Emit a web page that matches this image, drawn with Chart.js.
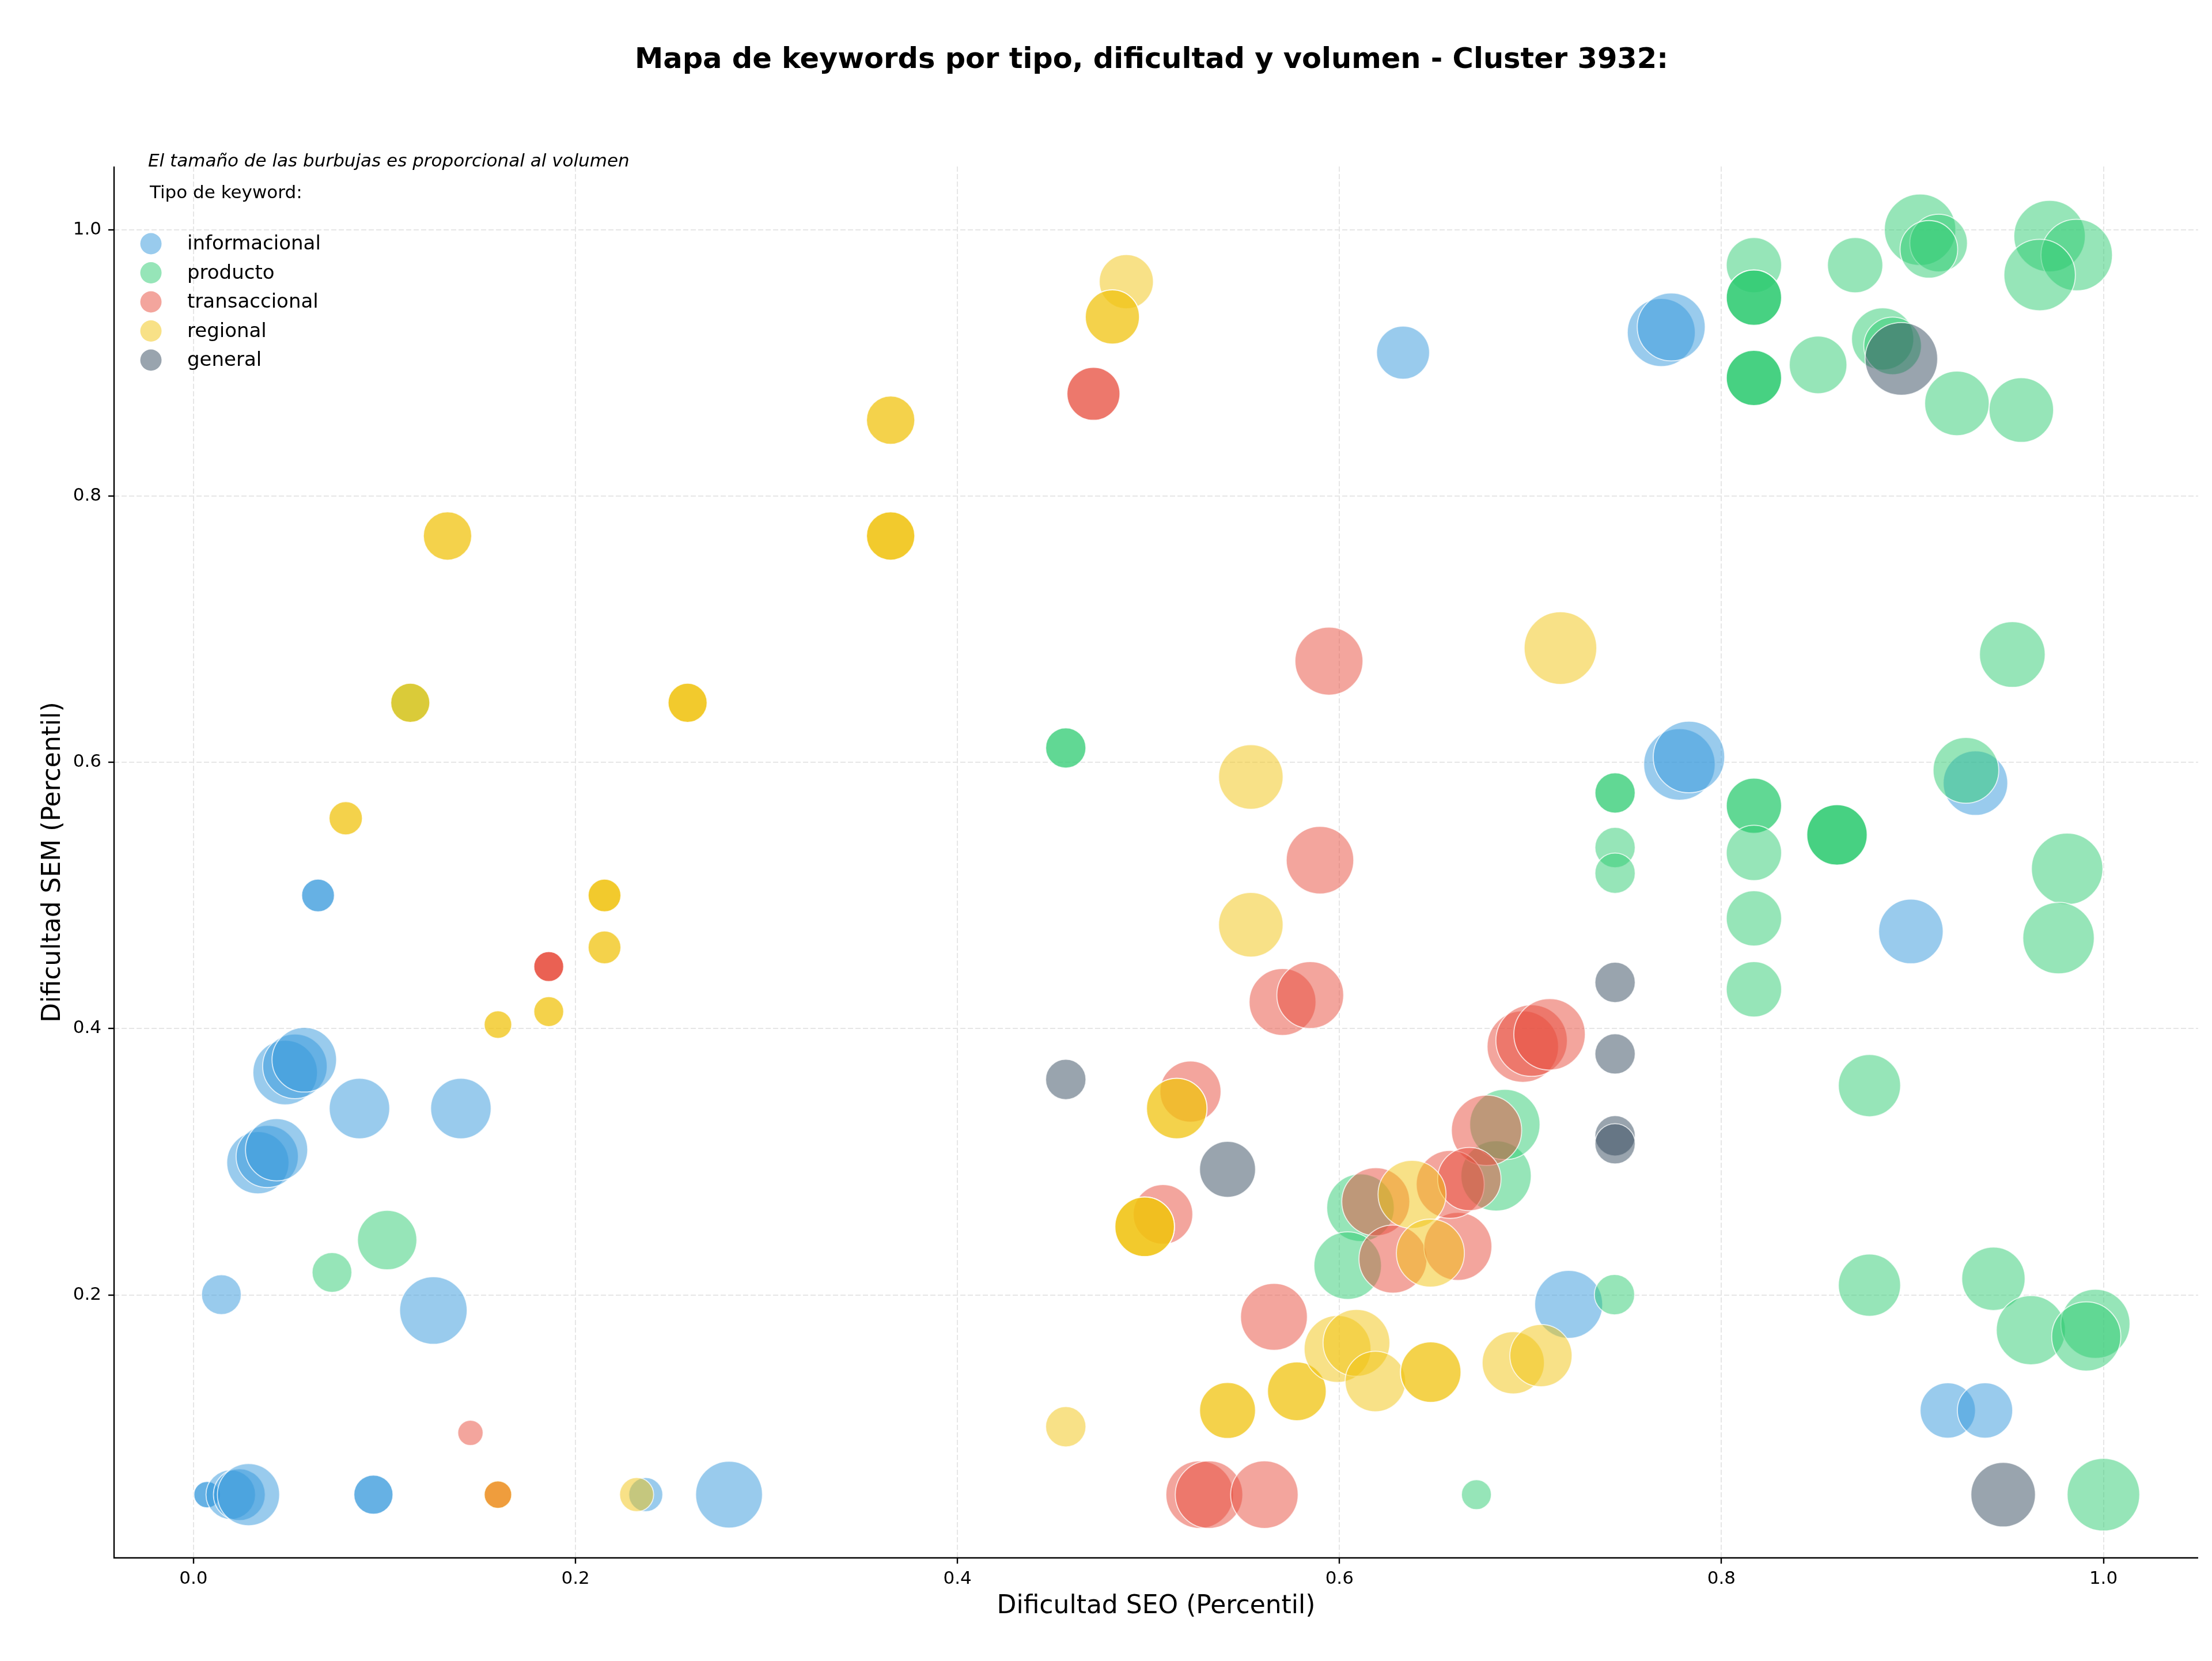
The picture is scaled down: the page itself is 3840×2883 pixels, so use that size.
<!DOCTYPE html>
<html>
<head>
<meta charset="utf-8">
<script src="https://cdn.jsdelivr.net/npm/chart.js@4.4.1/dist/chart.umd.min.js"></script>
<style>
html,body{margin:0;padding:0;background:#fff;overflow:hidden;}
#wrap{width:3840px;height:2883px;position:relative;}
#c{display:block;}
</style>
</head>
<body>
<div id="wrap"><canvas id="c"></canvas></div>
<script>
// ---------------- DATA ----------------
const chartTitle = 'Mapa de keywords por tipo, dificultad y volumen - Cluster 3932:';
const subtitleText = 'El tamaño de las burbujas es proporcional al volumen';
const legendTitle = 'Tipo de keyword:';
const xAxisTitle = 'Dificultad SEO (Percentil)';
const yAxisTitle = 'Dificultad SEM (Percentil)';
const categories = ['informacional', 'producto', 'transaccional', 'regional', 'general'];
const xTickValues = [0.0, 0.2, 0.4, 0.6, 0.8, 1.0];
const yTickValues = [0.2, 0.4, 0.6, 0.8, 1.0];

// informacional
const infoX = [0.6333,0.7685,0.7737,0.778,0.783,0.933,0.8992,0.720,0.9185,0.938,0.0652,0.0652,0.048,0.0531,0.058,0.0337,0.0386,0.0435,0.0869,0.140,0.0146,0.1256,0.0071,0.0071,0.0195,0.024,0.0288,0.0942,0.0942,0.2368,0.2804];
const infoY = [0.9077,0.9228,0.927,0.5984,0.604,0.5844,0.473,0.1929,0.1132,0.1132,0.50,0.50,0.367,0.3717,0.3766,0.2993,0.304,0.309,0.340,0.340,0.2002,0.1883,0.05,0.05,0.05,0.05,0.05,0.05,0.05,0.05,0.05];
const infoVol = [529,870,870,961,961,784,784,870,576,576,203,203,784,784,784,729,729,729,689,689,298,858,132,132,462,506,729,289,289,218,841];

// producto
const prodX = [0.904,0.9137,0.9086,0.9718,0.986,0.9666,0.817,0.817,0.817,0.817,0.817,0.817,0.817,0.870,0.8506,0.8844,0.8896,0.9233,0.957,0.9523,0.7443,0.7443,0.7443,0.7443,0.817,0.817,0.817,0.8605,0.8605,0.8605,0.928,0.981,0.817,0.817,0.9765,0.8775,0.8775,0.9424,0.962,0.9958,0.991,1.0,0.6717,0.744,0.4567,0.4567,0.1014,0.0725,0.611,0.6043,0.682,0.6866,0.1135];
const prodY = [1.0,0.990,0.9853,0.9952,0.981,0.966,0.9734,0.949,0.949,0.949,0.8887,0.8887,0.8887,0.9734,0.8985,0.918,0.9128,0.8696,0.8646,0.681,0.577,0.577,0.536,0.5167,0.5674,0.5674,0.532,0.5455,0.5455,0.5455,0.594,0.52,0.4828,0.4295,0.468,0.3572,0.2073,0.2121,0.1735,0.1783,0.1688,0.05,0.05,0.2002,0.6108,0.6108,0.2412,0.2169,0.2655,0.222,0.2894,0.328,0.6447];
const prodVol = [961,625,625,961,961,961,576,576,576,576,576,576,576,576,625,729,625,784,784,812,306,306,306,306,576,576,576,689,689,689,812,961,576,576,961,729,729,756,900,900,900,992,169,306,306,306,663,298,858,858,930,930,289];

// transaccional
const transX = [0.4712,0.4712,0.5945,0.5898,0.5702,0.5847,0.522,0.5076,0.5657,0.5268,0.5317,0.5607,0.696,0.7006,0.710,0.677,0.619,0.628,0.662,0.658,0.668,0.186,0.186,0.186,0.145,0.1594,0.1594];
const transY = [0.8768,0.8768,0.676,0.5265,0.420,0.4252,0.3527,0.2605,0.1835,0.05,0.05,0.05,0.3865,0.391,0.3957,0.3236,0.270,0.2269,0.2364,0.283,0.287,0.4466,0.4466,0.4466,0.0964,0.05,0.05];
const transVol = [529,529,870,858,841,841,702,668,841,858,858,858,961,961,961,930,870,870,870,870,756,169,169,169,121,144,144];

// regional
const regX = [0.133,0.133,0.1135,0.1135,0.2587,0.2587,0.2587,0.0797,0.0797,0.4884,0.4811,0.4811,0.365,0.365,0.365,0.365,0.365,0.5536,0.5536,0.7157,0.2152,0.2152,0.2152,0.2152,0.2152,0.186,0.186,0.1594,0.1594,0.1594,0.232,0.5148,0.5148,0.498,0.498,0.498,0.4567,0.5414,0.5414,0.5777,0.5777,0.599,0.6089,0.6188,0.6478,0.6478,0.691,0.7055,0.638,0.6476];
const regY = [0.770,0.770,0.6447,0.6447,0.6447,0.6447,0.6447,0.558,0.558,0.961,0.9345,0.9345,0.857,0.857,0.770,0.770,0.770,0.589,0.478,0.6858,0.50,0.50,0.50,0.461,0.461,0.4128,0.4128,0.403,0.403,0.05,0.05,0.340,0.340,0.2512,0.2512,0.2512,0.101,0.1132,0.1132,0.1276,0.1276,0.1594,0.164,0.135,0.142,0.142,0.149,0.1544,0.2755,0.2314];
const regVol = [441,441,289,289,289,289,289,210,210,552,552,552,441,441,441,441,441,784,784,992,203,203,203,203,203,169,169,144,144,144,218,689,689,668,668,668,306,590,590,650,650,841,841,689,689,689,729,729,870,870];

// general
const genX = [0.8942,0.7443,0.7443,0.7443,0.7443,0.4567,0.5414,0.9475];
const genY = [0.903,0.4347,0.381,0.3195,0.3135,0.3618,0.2943,0.05];
const genVol = [992,306,306,306,306,306,590,784];

// ---------------- STYLE ----------------
const FONT = '"DejaVu Sans", "Liberation Sans", sans-serif';
const baseColors = ['#3498db', '#2ecc71', '#e74c3c', '#f1c40f', '#34495e'];
function rgba(hex, a){const n=parseInt(hex.slice(1),16);return `rgba(${(n>>16)&255},${(n>>8)&255},${n&255},${a})`;}
const ALPHA = 0.5;
function volToRadius(v){ return Math.sqrt(v) * 2; }

const seriesX = [infoX, prodX, transX, regX, genX];
const seriesY = [infoY, prodY, transY, regY, genY];
const seriesV = [infoVol, prodVol, transVol, regVol, genVol];

const datasets = categories.map((name, i) => ({
  label: name,
  data: seriesX[i].map((x, j) => ({x: x, y: seriesY[i][j], r: volToRadius(seriesV[i][j])})),
  backgroundColor: rgba(baseColors[i], ALPHA),
  borderColor: 'rgba(255,255,255,0.75)',
  borderWidth: 1.8,
  order: categories.length - i
}));

const overlay = {
  id: 'overlay',
  afterDraw(chart){
    const c = chart.ctx;
    const area = chart.chartArea;
    const cx = (area.left + area.right) / 2;
    c.save();
    // spines (solid)
    c.strokeStyle = '#000';
    c.lineWidth = 2.4;
    c.setLineDash([]);
    c.beginPath();
    c.moveTo(area.left, area.top);
    c.lineTo(area.left, area.bottom);
    c.lineTo(area.right, area.bottom);
    c.stroke();
    c.fillStyle = '#000';
    // Title
    c.font = 'bold 49.5px ' + FONT;
    c.textAlign = 'center';
    c.textBaseline = 'alphabetic';
    c.fillText(chartTitle, cx - 8, 118);
    // x axis title
    c.font = '44px ' + FONT;
    c.fillText(xAxisTitle, cx, 2800);
    // y axis title
    c.save();
    c.translate(104, (area.top + area.bottom) / 2);
    c.rotate(-Math.PI / 2);
    c.fillText(yAxisTitle, 0, 0);
    c.restore();
    // subtitle & legend
    c.textAlign = 'left';
    c.font = 'italic 31px ' + FONT;
    c.fillText(subtitleText, 257, 289);
    c.font = '31px ' + FONT;
    c.fillText(legendTitle, 260, 344);
    c.font = '34px ' + FONT;
    chart.data.datasets.forEach((ds, i) => {
      const cy = 423 + i * 50.5;
      c.beginPath();
      c.arc(262, cy, 18.5, 0, Math.PI * 2);
      c.fillStyle = ds.backgroundColor;
      c.fill();
      c.fillStyle = '#000';
      c.fillText(ds.label, 325, cy + 10);
    });
    c.restore();
  }
};

const gridOpts = { color: '#e6e6e6', lineWidth: 2, drawTicks: true, tickLength: 10,
                   tickColor: '#000', tickWidth: 2.4, tickBorderDash: [] };
const borderOpts = { display: false, color: '#000', width: 2.4, dash: [9, 4] };

new Chart(document.getElementById('c'), {
  type: 'bubble',
  data: { datasets: datasets },
  plugins: [overlay],
  options: {
    responsive: true,
    maintainAspectRatio: false,
    animation: false,
    events: [],
    devicePixelRatio: 1,
    layout: { autoPadding: false, padding: { top: 289, right: 24, left: 0, bottom: 0 } },
    plugins: { legend: { display: false }, title: { display: false }, tooltip: { enabled: false } },
    scales: {
      x: {
        type: 'linear',
        min: -0.0416,
        max: 1.0496,
        afterBuildTicks: s => { s.ticks = xTickValues.map(v => ({value: v})); },
        afterFit: s => { s.height = 179; s.paddingLeft = 0; s.paddingRight = 0; },
        ticks: { font: { family: FONT, size: 31 }, color: '#000', padding: 8, maxRotation: 0, autoSkip: false,
                 callback: v => Number(v).toFixed(1) },
        grid: gridOpts,
        border: borderOpts
      },
      y: {
        type: 'linear',
        min: 0.0025,
        max: 1.0475,
        afterBuildTicks: s => { s.ticks = yTickValues.map(v => ({value: v})); },
        afterFit: s => { s.width = 198; s.paddingTop = 0; s.paddingBottom = 0; },
        ticks: { font: { family: FONT, size: 31 }, color: '#000', padding: 12, autoSkip: false,
                 callback: v => Number(v).toFixed(1) },
        grid: gridOpts,
        border: borderOpts
      }
    }
  }
});
</script>
</body>
</html>
